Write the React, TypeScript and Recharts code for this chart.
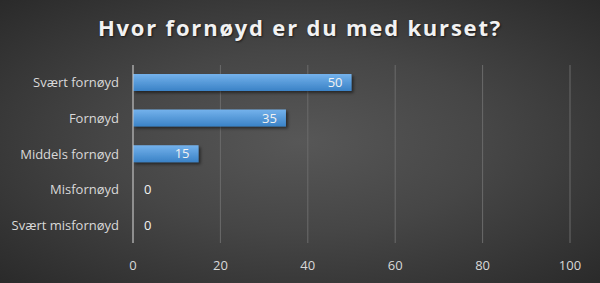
import { BarChart, Bar, XAxis, YAxis, CartesianGrid, LabelList, Cell } from "recharts";

const categories = ["Svært fornøyd", "Fornøyd", "Middels fornøyd", "Misfornøyd", "Svært misfornøyd"];
const answers = [50, 35, 15, 0, 0];
const xTicks = [0, 20, 40, 60, 80, 100];

const data = categories.map((name, i) => ({ name, value: answers[i] }));

const font = "'Open Sans', 'DejaVu Sans', sans-serif";

// verdi-etikett: inne i stolpen, eller rett utenfor når verdien er 0
const ValueLabel = (props: any) => {
  const { x, y, width, height, value, index } = props;
  const v = value ?? answers[index];
  const zero = !v;
  return (
    <text
      x={zero ? Number(x) + 11 : Number(x) + Number(width) - 9}
      y={Number(y) + Number(height) / 2}
      dy="0.36em"
      textAnchor={zero ? "start" : "end"}
      fill="#f2f2f2"
      fontSize={13}
      fontFamily={font}
    >
      {String(v)}
    </text>
  );
};

export default function App() {
  return (
    <div
      style={{
        position: "absolute",
        left: 0,
        top: 0,
        width: 600,
        height: 283,
        background: "radial-gradient(ellipse at 50% 50%, #575757 0%, #464646 45%, #2a2a2a 100%)",
        fontFamily: font,
      }}
    >
      <div
        style={{
          position: "absolute",
          top: 12,
          left: 0,
          width: 600,
          textAlign: "center",
          color: "#f2f2f2",
          fontSize: 22,
          fontWeight: 700,
          letterSpacing: 1.8,
          textShadow: "1px 1px 2px rgba(0,0,0,0.6)",
        }}
      >
        Hvor fornøyd er du med kurset?
      </div>
      <BarChart
        width={600}
        height={283}
        data={data}
        layout="vertical"
        margin={{ top: 65, right: 30, left: 0, bottom: 0 }}
        barSize={17}
        style={{ position: "absolute", left: 0, top: 0 }}
      >
        <defs>
          <linearGradient id="barFill" x1="0" y1="0" x2="0" y2="1">
            <stop offset="0%" stopColor="#74b2ec" />
            <stop offset="100%" stopColor="#3a82c6" />
          </linearGradient>
          <filter id="barShadow" x="-10%" y="-30%" width="130%" height="200%">
            <feDropShadow dx="2" dy="2" stdDeviation="1.5" floodColor="#000" floodOpacity="0.5" />
          </filter>
        </defs>
        <CartesianGrid horizontal={false} stroke="#6b6b6b" />
        <XAxis
          type="number"
          domain={[0, 100]}
          ticks={xTicks}
          axisLine={false}
          tickLine={false}
          tickMargin={12}
          height={40}
          tick={{ fill: "#d9d9d9", fontSize: 13, fontFamily: font }}
        />
        <YAxis
          type="category"
          dataKey="name"
          width={133}
          axisLine={{ stroke: "#c8c8c8" }}
          tickLine={false}
          tickMargin={8}
          tick={{ fill: "#d9d9d9", fontSize: 13, fontFamily: font }}
        />
        <Bar dataKey="value" minPointSize={1} filter="url(#barShadow)" isAnimationActive={false}>
          {data.map((d) => (
            <Cell key={d.name} fill={d.value ? "url(#barFill)" : "transparent"} />
          ))}
          <LabelList dataKey="value" content={<ValueLabel />} />
        </Bar>
      </BarChart>
    </div>
  );
}
